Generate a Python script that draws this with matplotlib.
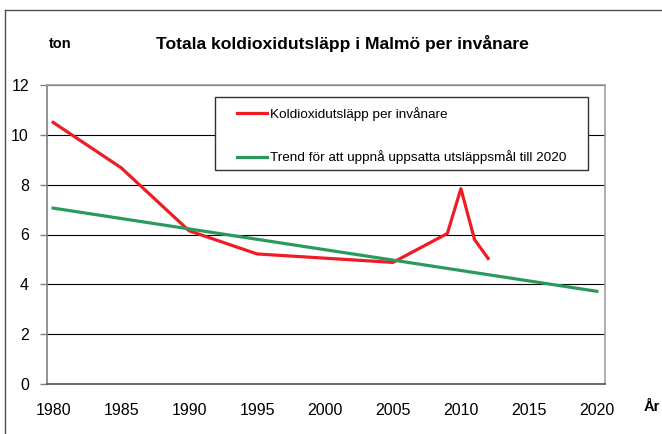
import matplotlib.pyplot as plt
from matplotlib.lines import Line2D
from matplotlib.patches import Rectangle

plt.rcParams['font.family'] = ['Liberation Sans', 'DejaVu Sans']

# utsläpp per invånare (ton)
years = [1980, 1985, 1990, 1995, 2005, 2009, 2010, 2011, 2012]
emissions = [10.5, 8.68, 6.15, 5.22, 4.88, 6.04, 7.84, 5.8, 5.04]

# trendlinje mot målet 2020
trend_years = [1980, 2020]
trend_values = [7.06, 3.72]

xticks = list(range(1980, 2021, 5))
yticks = list(range(0, 13, 2))

W, H = 662, 434
fig = plt.figure(figsize=(W / 100, H / 100), dpi=100)
ax = fig.add_axes([47 / W, 50 / H, 558 / W, 299 / H])

ax.plot(years, emissions, color='#ee1c25', lw=2.3, label='Koldioxidutsläpp per invånare', zorder=3)
ax.plot(trend_years, trend_values, color='#2a9a5c', lw=2.3,
        label='Trend för att uppnå uppsatta utsläppsmål till 2020', zorder=3)

ax.set_xlim(1979.55, 2020.6)
ax.set_ylim(0, 12)
ax.set_xticks(xticks)
ax.set_yticks(yticks)
ax.tick_params(axis='x', length=0, pad=14, labelsize=11.5)
ax.tick_params(axis='y', length=5, width=1, color='#808080', pad=8, labelsize=11.5)

ax.set_axisbelow(True)
ax.yaxis.grid(True, color='black', lw=0.8)

ax.spines['left'].set_color('#808080')
ax.spines['bottom'].set_color('#505050')
ax.spines['top'].set_color('#a0a0a0')
ax.spines['right'].set_color('#a0a0a0')
for s in ax.spines.values():
    s.set_linewidth(1.2)

# legendruta
ax.add_patch(Rectangle((215 / W, 1 - 170 / H), 373 / W, 73 / H, transform=fig.transFigure,
                       facecolor='white', edgecolor='#303030', lw=1.0, zorder=4, clip_on=False))
leg = ax.legend(loc='upper left', bbox_to_anchor=(237 / W, 1 - 107 / H),
                bbox_transform=fig.transFigure, borderaxespad=0, borderpad=0,
                fontsize=9.7, frameon=False, labelspacing=2.19,
                handlelength=2.22, handletextpad=0.22)
leg.set_zorder(5)

fig.text(342 / W, 1 - 43 / H, 'Totala koldioxidutsläpp i Malmö per invånare',
         ha='center', va='center', fontsize=12.6, fontweight='bold')
fig.text(60 / W, 1 - 44 / H, 'ton', ha='center', va='center', fontsize=10.5, fontweight='bold')
fig.text(652 / W, 1 - 407 / H, 'År', ha='center', va='center', fontsize=10.5, fontweight='bold')

# ram runt diagrammet
fig.add_artist(Line2D([5 / W, 5 / W], [0, 1 - 10 / H], transform=fig.transFigure,
                      color='#505050', lw=1.0))
fig.add_artist(Line2D([5 / W, 1], [1 - 10 / H, 1 - 10 / H], transform=fig.transFigure,
                      color='#505050', lw=1.0))

fig.savefig('out.png', dpi=100)
